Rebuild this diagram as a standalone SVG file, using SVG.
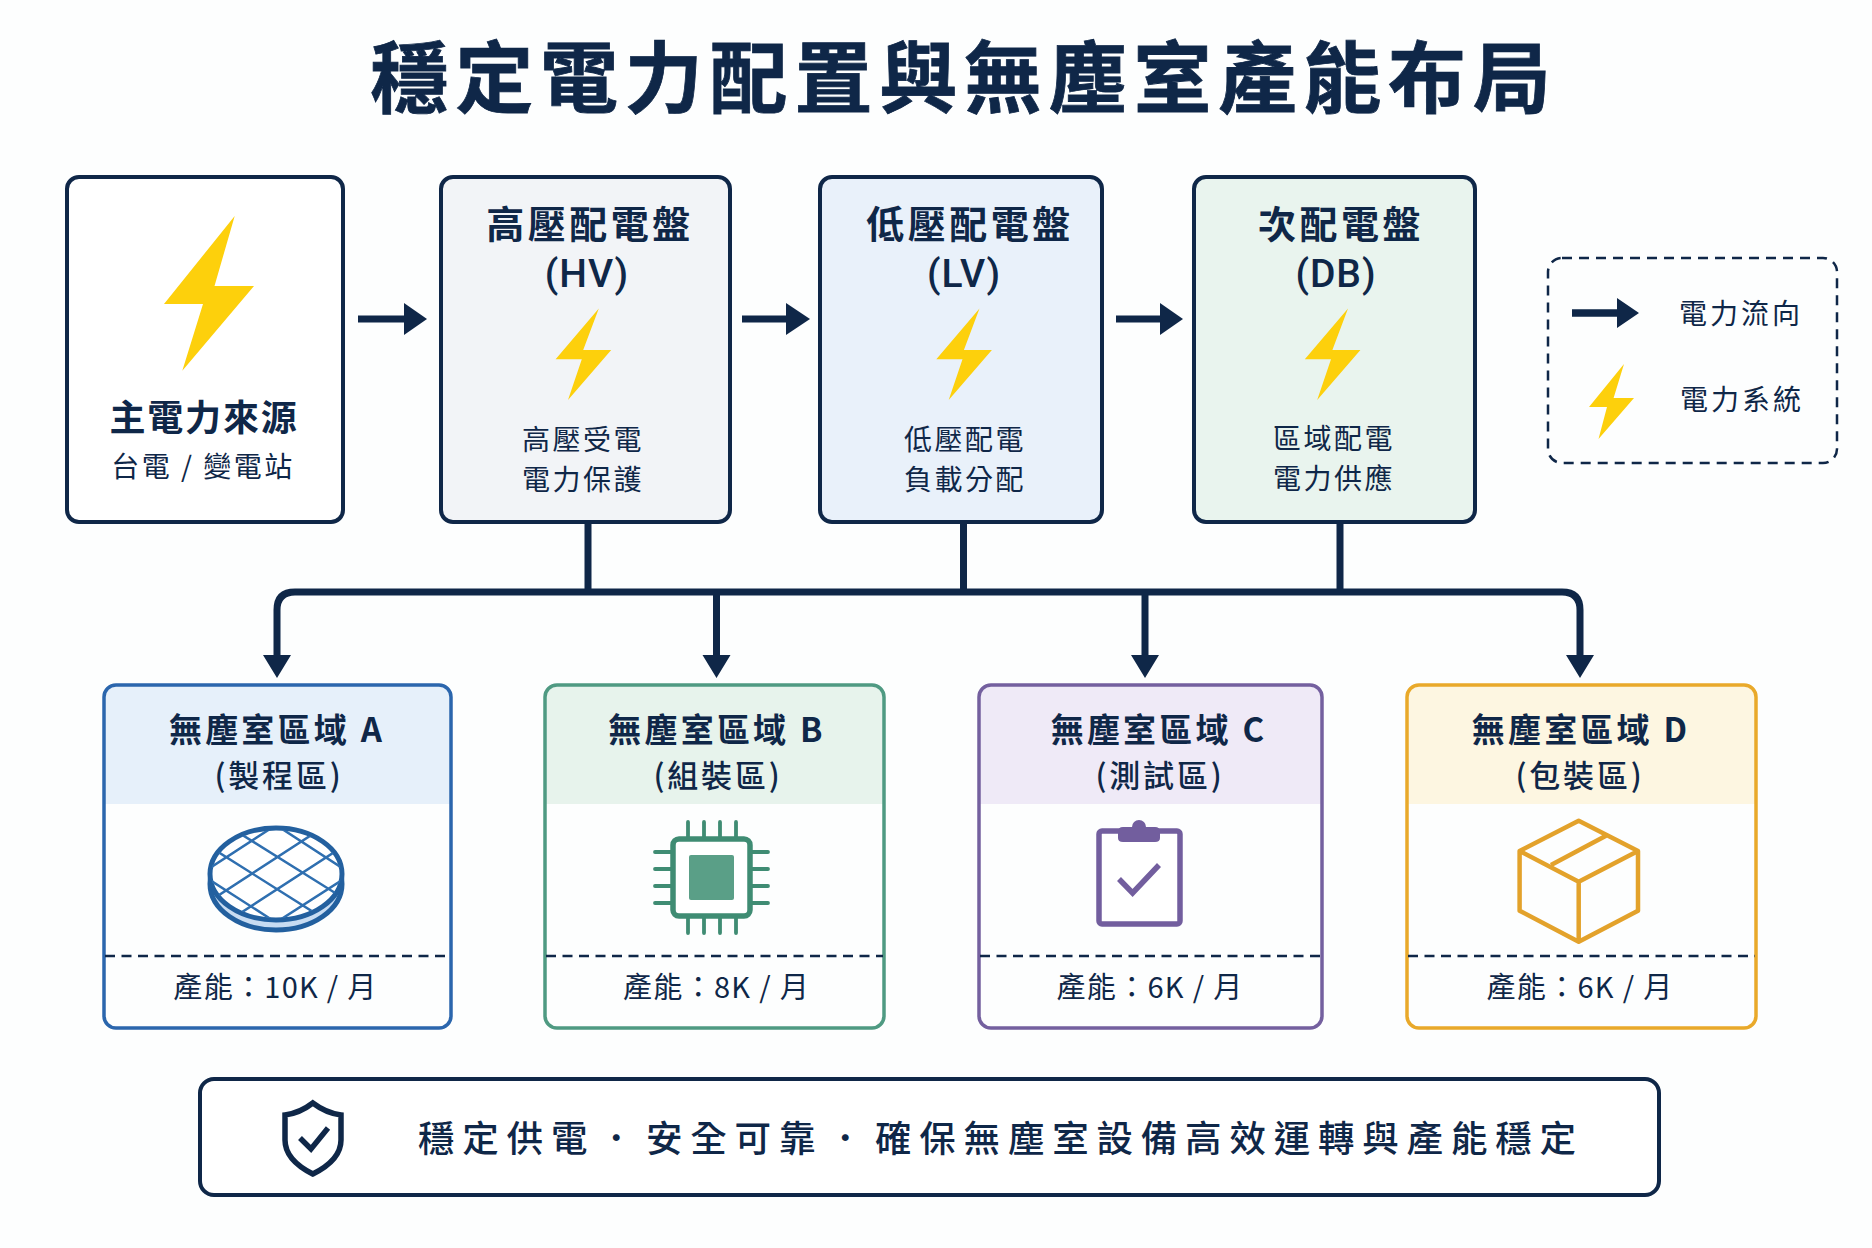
<svg xmlns="http://www.w3.org/2000/svg" width="1872" height="1248" viewBox="0 0 1872 1248">
<defs>
<style>
text{font-family:"Noto Sans CJK TC","Noto Sans CJK SC","Noto Sans",sans-serif;fill:#0f2748;text-anchor:middle}
.title{font-size:78px;font-weight:700;letter-spacing:6.800px;stroke:#0f2748;stroke-width:0.800px}
.h{font-size:38px;font-weight:700;letter-spacing:3.500px}
.p{font-family:Roboto,"Noto Sans",sans-serif;font-size:39px;font-weight:500;letter-spacing:1px}
.s{font-size:28px;font-weight:400;letter-spacing:2.500px}
.m{font-size:36px;font-weight:700;letter-spacing:1.800px}
.zh{font-size:33px;font-weight:700;letter-spacing:3.200px}
.zs{font-size:31px;font-weight:500;letter-spacing:2.800px}
.zc{font-size:29px;font-weight:400;letter-spacing:1.300px}
.f{font-size:36.500px;font-weight:500;letter-spacing:7.800px;text-anchor:start}
.l{font-size:28px;font-weight:400;letter-spacing:3px}
.box{stroke:#0f2748;stroke-width:4}
.zone{fill:none;stroke-width:3.500}
.dash{stroke:#0f2748;stroke-width:2.500;stroke-dasharray:10 6.500}
.wire{fill:none;stroke:#0f2748;stroke-width:7}
.bolt{fill:#fdd00c}
</style>
<path id="bolt" class="bolt" d="M0 0L-15.600 41.400H12.400L-30.800 91.400L-17 50.700H-43.200Z"/>
<clipPath id="waferClip"><ellipse cx="276" cy="874" rx="65" ry="44"/></clipPath>
</defs>
<rect width="1872" height="1248" fill="#fdfefe"/>
<g id="title"><text class="title" x="964" y="107">穩定電力配置與無塵室產能布局</text></g>

<g id="connectors">
<path class="wire" d="M358 319H406M742 319H788M1116 319H1163M1572 313H1619"/>
<path fill="#0f2748" d="M404 303L427 319L404 335ZM786 303L810 319L786 335ZM1160 303L1183 319L1160 335Z"/>
<path class="wire" d="M588 523V592M963.500 523V592M1340 523V592M277 658V610Q277 592 295 592H1562Q1580 592 1580 610V658M716.500 592V658M1145 592V658"/>
<path fill="#0f2748" d="M263 655H291L277 678ZM702.500 655H730.500L716.500 678ZM1131 655H1159L1145 678ZM1566 655H1594L1580 678Z"/>
</g>

<g id="node-source">
<rect class="box" x="67" y="177" width="276" height="345" rx="12" fill="#fff"/>
<path class="bolt" d="M234.700 216L214.500 286H254L182.300 370.700L203 304H164Z"/>
<text class="m" x="204" y="431">主電力來源</text>
<text class="s" x="203" y="477">台電 / 變電站</text>
</g>
<g id="node-hv">
<rect class="box" x="441" y="177" width="289" height="345" rx="12" fill="#f2f4f7"/>
<text class="h" x="590" y="238">高壓配電盤</text>
<text class="p" x="587" y="287">(HV)</text>
<use href="#bolt" x="598.800" y="308.500"/>
<text class="s" x="583" y="450">高壓受電</text>
<text class="s" x="583" y="490">電力保護</text>
</g>
<g id="node-lv">
<rect class="box" x="820" y="177" width="282" height="345" rx="12" fill="#e9f1fa"/>
<text class="h" x="970" y="238">低壓配電盤</text>
<text class="p" x="964" y="287">(LV)</text>
<use href="#bolt" x="979.500" y="308.500"/>
<text class="s" x="965" y="450">低壓配電</text>
<text class="s" x="965" y="490">負載分配</text>
</g>
<g id="node-db">
<rect class="box" x="1194" y="177" width="281" height="345" rx="12" fill="#e9f4ee"/>
<text class="h" x="1341" y="238">次配電盤</text>
<text class="p" x="1336" y="287">(DB)</text>
<use href="#bolt" x="1348" y="308.500"/>
<text class="s" x="1334" y="449">區域配電</text>
<text class="s" x="1334" y="489">電力供應</text>
</g>

<g id="legend">
<rect x="1548" y="258" width="289" height="205" rx="14" fill="none" stroke="#0f2748" stroke-width="2.500" stroke-dasharray="10 7"/>
<path fill="#0f2748" d="M1572 309.500H1617V298L1639 313L1617 328V316.500H1572Z"/>
<text class="l" x="1741" y="324">電力流向</text>
<path class="bolt" d="M1624 364L1613.600 398H1634L1598.500 439L1607 407H1589Z"/>
<text class="l" x="1742" y="410">電力系統</text>
</g>

<g id="zone-a">
<path d="M104 804V697Q104 685 116 685H439Q451 685 451 697V804Z" fill="#e6f0fa"/>
<rect class="zone" x="104" y="685" width="347" height="343" rx="12" stroke="#2b66ad"/>
<path class="dash" d="M105 956H450"/>
<text class="zh" x="277" y="742">無塵室區域 A</text>
<text class="zs" x="279" y="787">(製程區)</text>
<ellipse cx="276" cy="884" rx="66" ry="46" fill="#c8dcf2" stroke="#23609f" stroke-width="5"/>
<ellipse cx="276" cy="874" rx="66" ry="46" fill="#fff" stroke="#23609f" stroke-width="5"/>
<path clip-path="url(#waferClip)" d="M196 871L356 974M196 838L356 939M196 806L356 906M196 773L356 877M196 877L356 773M196 910L356 806M196 942L356 838M196 974L356 871" fill="none" stroke="#2f6fb0" stroke-width="2.500"/>
</g>
<g id="zone-b">
<path d="M545 804V697Q545 685 557 685H872Q884 685 884 697V804Z" fill="#e7f3ec"/>
<rect class="zone" x="545" y="685" width="339" height="343" rx="12" stroke="#4f9a82"/>
<path class="dash" d="M546 956H883"/>
<text class="zh" x="717" y="742">無塵室區域 B</text>
<text class="zs" x="718" y="787">(組裝區)</text>
<path d="M688 822V839M704 822V839M720 822V839M736 822V839M688 916V933M704 916V933M720 916V933M736 916V933M655 852H673M655 869H673M655 886H673M655 903H673M750 852H768M750 869H768M750 886H768M750 903H768" stroke="#3f8c73" stroke-width="3.800" stroke-linecap="round"/>
<rect x="673" y="839" width="77" height="77" rx="6" fill="#fff" stroke="#3f8c73" stroke-width="5.500"/>
<rect x="689" y="855" width="45" height="45" rx="2" fill="#5a9f87"/>
</g>
<g id="zone-c">
<path d="M979 804V697Q979 685 991 685H1310Q1322 685 1322 697V804Z" fill="#efeaf7"/>
<rect class="zone" x="979" y="685" width="343" height="343" rx="12" stroke="#74609f"/>
<path class="dash" d="M980 956H1321"/>
<text class="zh" x="1159" y="742">無塵室區域 C</text>
<text class="zs" x="1160" y="787">(測試區)</text>
<rect x="1099" y="831" width="81" height="93" rx="3" fill="#fff" stroke="#725e9e" stroke-width="5.500"/>
<path fill="#725e9e" d="M1123 827H1132A7 7 0 0 1 1146 827H1155Q1160 827 1160 832V838Q1160 842 1155 842H1123Q1118 842 1118 838V832Q1118 827 1123 827Z"/>
<path d="M1119 879L1132.600 893L1159 865" fill="none" stroke="#725e9e" stroke-width="5.500"/>
</g>
<g id="zone-d">
<path d="M1407 804V697Q1407 685 1419 685H1744Q1756 685 1756 697V804Z" fill="#fdf6e1"/>
<rect class="zone" x="1407" y="685" width="349" height="343" rx="12" stroke="#e9a92a"/>
<path class="dash" d="M1408 956H1755"/>
<text class="zh" x="1581" y="742">無塵室區域 D</text>
<text class="zs" x="1580" y="787">(包裝區)</text>
<path d="M1578.700 820.700L1638 851V910.700L1578.700 941.700L1519.600 910.700V851ZM1519.600 851L1578.700 881.700L1638 851M1578.700 881.700V941.700M1606 835.700L1551 865" fill="none" stroke="#e3a22b" stroke-width="4.500" stroke-linejoin="round"/>
</g>
<g id="capacity-labels">
<text class="zc" x="275.500" y="998">產能：10K / 月</text>
<text class="zc" x="716.500" y="998">產能：8K / 月</text>
<text class="zc" x="1150" y="998">產能：6K / 月</text>
<text class="zc" x="1580" y="998">產能：6K / 月</text>
</g>

<g id="footer">
<rect class="box" x="200" y="1079" width="1459" height="116" rx="14" fill="#fff"/>
<path d="M312.800 1103Q300 1113 285 1115V1140Q285 1160 312.800 1174Q341 1160 341 1140V1115Q326 1113 312.800 1103Z" fill="#fff" stroke="#0f2748" stroke-width="5.500"/>
<path d="M300 1138L311 1149L328 1128" fill="none" stroke="#0f2748" stroke-width="5.500"/>
<text class="f" y="1152"><tspan x="418">穩定供電</tspan><tspan x="598" font-weight="300">·</tspan><tspan x="646">安全可靠</tspan><tspan x="827" font-weight="300">·</tspan><tspan x="875">確保無塵室設備高效運轉與產能穩定</tspan></text>
</g>
</svg>
